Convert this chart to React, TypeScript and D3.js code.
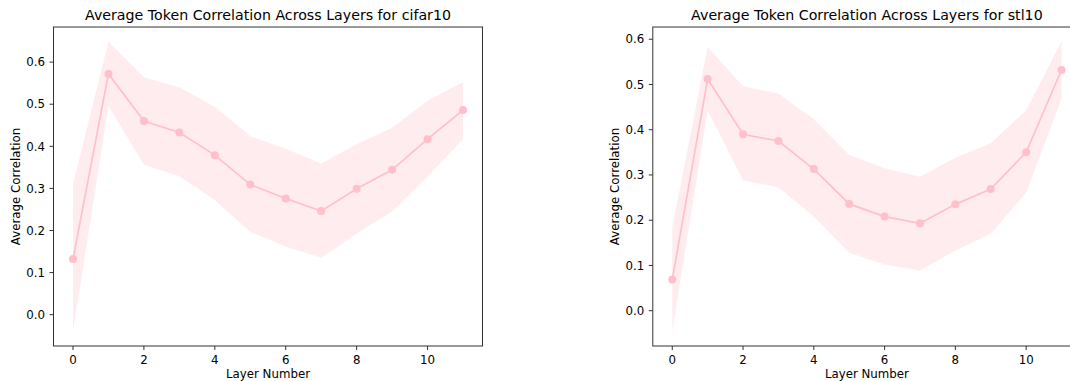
import React from "react";
import * as d3 from "d3";

const layers = [0, 1, 2, 3, 4, 5, 6, 7, 8, 9, 10, 11];

const cifarMean = [0.132, 0.572, 0.460, 0.433, 0.379, 0.309, 0.276, 0.246, 0.299, 0.344, 0.417, 0.486];
const cifarUpper = [0.310, 0.649, 0.564, 0.540, 0.494, 0.424, 0.394, 0.359, 0.405, 0.444, 0.508, 0.553];
const cifarLower = [-0.040, 0.496, 0.356, 0.329, 0.272, 0.197, 0.162, 0.135, 0.193, 0.245, 0.328, 0.417];

const stlMean = [0.069, 0.512, 0.390, 0.375, 0.313, 0.236, 0.208, 0.193, 0.235, 0.269, 0.350, 0.532];
const stlUpper = [0.184, 0.583, 0.496, 0.480, 0.423, 0.344, 0.315, 0.296, 0.338, 0.370, 0.443, 0.595];
const stlLower = [-0.046, 0.443, 0.288, 0.273, 0.208, 0.128, 0.102, 0.089, 0.133, 0.170, 0.261, 0.469];

const yTicks = [0.0, 0.1, 0.2, 0.3, 0.4, 0.5, 0.6];
const xTicks = [0, 2, 4, 6, 8, 10];

const FONT = "DejaVu Sans, sans-serif";
const TICK_FS = 11.8;
const TITLE_FS = 14.2;

type PanelProps = {
  title: string;
  mean: number[];
  upper: number[];
  lower: number[];
  left: number;
  right: number;
};

function Panel({ title, mean, upper, lower, left, right }: PanelProps) {
  const top = 27;
  const bottom = 346;
  const xmin = d3.min(layers)!;
  const xmax = d3.max(layers)!;
  const xpad = (xmax - xmin) * 0.05;
  const ymin = d3.min(lower)!;
  const ymax = d3.max(upper)!;
  const ypad = (ymax - ymin) * 0.05;
  const x = d3.scaleLinear().domain([xmin - xpad, xmax + xpad]).range([left, right]);
  const y = d3.scaleLinear().domain([ymin - ypad, ymax + ypad]).range([bottom, top]);

  const area = d3
    .area<number>()
    .x((d) => x(d))
    .y0((d, i) => y(lower[i]))
    .y1((d, i) => y(upper[i]));
  const line = d3
    .line<number>()
    .x((d) => x(d))
    .y((d, i) => y(mean[i]));

  const cx = (left + right) / 2;
  const cy = (top + bottom) / 2;
  const fmt = d3.format(".1f");

  return (
    <g>
      <path d={area(layers)!} fill="pink" fillOpacity={0.3} stroke="none" />
      <path d={line(layers)!} fill="none" stroke="pink" strokeWidth={1.7} />
      {layers.map((d, i) => (
        <circle key={i} cx={x(d)} cy={y(mean[i])} r={4} fill="pink" />
      ))}
      <rect x={left} y={top} width={right - left} height={bottom - top} fill="none" stroke="#333" strokeWidth={1} />
      {yTicks.map((t) => (
        <g key={"y" + t}>
          <line x1={left - 4} x2={left} y1={y(t)} y2={y(t)} stroke="#333" strokeWidth={1} />
          <text x={left - 8.5} y={y(t)} dy="0.36em" textAnchor="end" fontSize={TICK_FS} fontFamily={FONT} fill="#000">
            {fmt(t)}
          </text>
        </g>
      ))}
      {xTicks.map((t) => (
        <g key={"x" + t}>
          <line x1={x(t)} x2={x(t)} y1={bottom} y2={bottom + 4} stroke="#333" strokeWidth={1} />
          <text x={x(t)} y={364} textAnchor="middle" fontSize={TICK_FS} fontFamily={FONT} fill="#000">
            {t}
          </text>
        </g>
      ))}
      <text x={cx} y={20} textAnchor="middle" fontSize={TITLE_FS} fontFamily={FONT} fill="#000">
        {title}
      </text>
      <text x={cx} y={378} textAnchor="middle" fontSize={TICK_FS} fontFamily={FONT} fill="#000">
        Layer Number
      </text>
      <text
        transform={`translate(${left - 34},${cy}) rotate(-90)`}
        textAnchor="middle"
        fontSize={TICK_FS}
        fontFamily={FONT}
        fill="#000"
      >
        Average Correlation
      </text>
    </g>
  );
}

export default function App() {
  return (
    <svg
      width={1070}
      height={381}
      style={{ position: "absolute", left: 0, top: 0, background: "#fff" }}
    >
      <rect x={0} y={0} width={1070} height={381} fill="#fff" />
      <Panel
        title="Average Token Correlation Across Layers for cifar10"
        mean={cifarMean}
        upper={cifarUpper}
        lower={cifarLower}
        left={53.5}
        right={482.5}
      />
      <Panel
        title="Average Token Correlation Across Layers for stl10"
        mean={stlMean}
        upper={stlUpper}
        lower={stlLower}
        left={652.8}
        right={1081}
      />
    </svg>
  );
}
